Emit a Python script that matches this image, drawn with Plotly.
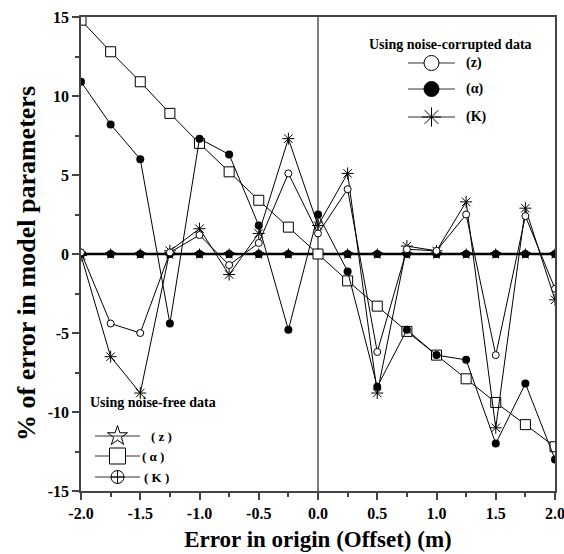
import plotly.graph_objects as go

offset = [-2.0, -1.75, -1.5, -1.25, -1.0, -0.75, -0.5, -0.25, 0.0,
          0.25, 0.5, 0.75, 1.0, 1.25, 1.5, 1.75, 2.0]

# noise-corrupted data
z_noisy = [0.1, -4.4, -5.0, 0.1, 1.2, -0.7, 0.7, 5.1, 1.3,
           4.1, -6.2, 0.3, 0.2, 2.5, -6.4, 2.4, -2.2]
alpha_noisy = [10.9, 8.2, 6.0, -4.4, 7.3, 6.3, 1.8, -4.8, 2.5,
               -1.1, -8.4, -4.8, -6.4, -6.7, -12.0, -8.2, -13.0]
k_noisy = [-0.1, -6.5, -8.8, 0.2, 1.6, -1.3, 1.3, 7.3, 1.8,
           5.1, -8.8, 0.5, 0.2, 3.3, -11.0, 2.9, -2.9]
# square-marked series
alpha_sq = [14.8, 12.8, 10.9, 8.9, 7.0, 5.2, 3.4, 1.7, 0.0,
            -1.7, -3.3, -4.9, -6.4, -7.9, -9.4, -10.8, -12.2]
# noise-free data
z_free = [0.0] * 17
alpha_free = [0.0] * 17
k_free = [0.0] * 17

xticks = [-2.0, -1.5, -1.0, -0.5, 0.0, 0.5, 1.0, 1.5, 2.0]
xticklabels = ["-2.0", "-1.5", "-1.0", "-0.5", "0.0", "0.5", "1.0", "1.5", "2.0"]
yticks = [-15, -10, -5, 0, 5, 10, 15]
yticklabels = ["-15", "-10", "-5", "0", "5", "10", "15"]

FONT = "Liberation Serif"
W, H = 564, 554
ML, MR, MT, MB = 81, 9, 17, 63
PW, PH = W - ML - MR, H - MT - MB
fig = go.Figure()

# noise-free (thick zero line)
fig.add_trace(go.Scatter(x=offset, y=z_free, mode="lines+markers",
                         line=dict(color="black", width=2.5),
                         marker=dict(symbol="circle", size=8, color="black")))
fig.add_trace(go.Scatter(x=offset, y=alpha_free, mode="markers",
                         marker=dict(symbol="star", size=9, color="black")))
fig.add_trace(go.Scatter(x=offset, y=k_free, mode="markers",
                         marker=dict(symbol="square", size=5, color="black")))

fig.add_trace(go.Scatter(x=offset, y=alpha_sq, mode="lines+markers",
                         line=dict(color="black", width=1),
                         marker=dict(symbol="square", size=10, color="white",
                                     line=dict(color="black", width=1))))
fig.add_trace(go.Scatter(x=offset, y=alpha_noisy, mode="lines+markers",
                         line=dict(color="black", width=1),
                         marker=dict(symbol="circle", size=8, color="black")))
fig.add_trace(go.Scatter(x=offset, y=k_noisy, mode="lines+markers",
                         line=dict(color="black", width=1),
                         marker=dict(symbol="asterisk-open", size=10, color="black",
                                     line=dict(color="black", width=1))))
fig.add_trace(go.Scatter(x=offset, y=z_noisy, mode="lines+markers",
                         line=dict(color="black", width=1),
                         marker=dict(symbol="circle", size=7, color="white",
                                     line=dict(color="black", width=1))))

def px(x):
    return x / W
def py(y):
    return 1 - y / H

# custom legends on an overlay axis mapped to page coordinates
def leg(x0, x1, y, sym, size, fill, label, lx, fs=13):
    fig.add_trace(go.Scatter(x=[px(x0), px(x1)], y=[py(y), py(y)], mode="lines",
                             line=dict(color="#333", width=1),
                             xaxis="x2", yaxis="y2"))
    fig.add_trace(go.Scatter(x=[px((x0 + x1) / 2)], y=[py(y)], mode="markers",
                             marker=dict(symbol=sym, size=size, color=fill,
                                         line=dict(color="black", width=1)),
                             xaxis="x2", yaxis="y2"))
    fig.add_annotation(x=px(lx), y=py(y), xref="x2", yref="y2", text=label,
                       showarrow=False, xanchor="left",
                       font=dict(family=FONT, size=fs, color="black"))

leg(408, 455, 63, "circle", 15, "white", "<b>(z)</b>", 464, 14)
leg(408, 455, 89, "circle", 15, "black", "<b>(α)</b>", 464, 14)
leg(408, 455, 117, "asterisk-open", 16, "black", "<b>(K)</b>", 464, 14)
fig.add_annotation(x=px(450), y=py(44), xref="x2", yref="y2",
                   text="<b>Using noise-corrupted data</b>", showarrow=False,
                   font=dict(family=FONT, size=14, color="black"))

leg(95, 140, 436, "star-open", 15, "black", "<b>( z )</b>", 149)
leg(95, 140, 456, "square", 16, "white", "<b>( α )</b>", 140)
leg(95, 140, 477, "circle-cross-open", 13, "black", "<b>( K )</b>", 142)
fig.add_annotation(x=px(153), y=py(402), xref="x2", yref="y2",
                   text="<b>Using noise-free data</b>", showarrow=False,
                   font=dict(family=FONT, size=14, color="black"))

# y-axis title (paper coordinates, placed left of the plot area)
fig.add_annotation(x=(26 - ML) / PW, y=(H - MB - 264) / PH,
                   xref="paper", yref="paper", xanchor="center", yanchor="middle",
                   text="<b>% of error in model parameters</b>", showarrow=False,
                   textangle=-90,
                   font=dict(family=FONT, size=26, color="black"))

fig.add_shape(type="line", x0=0, x1=0, y0=-15, y1=15, xref="x", yref="y",
              line=dict(color="#555555", width=1.5), layer="below")

fig.update_layout(
    width=W, height=H, showlegend=False,
    paper_bgcolor="white", plot_bgcolor="white",
    margin=dict(l=ML, r=MR, t=MT, b=MB, autoexpand=False),
    font=dict(family=FONT, color="black"),
    xaxis=dict(range=[-2.0, 2.0], tickvals=xticks,
               ticktext=["<b>%s</b>" % t for t in xticklabels],
               ticks="outside", ticklen=7, tickwidth=1.5, tickcolor="#444",
               minor=dict(dtick=0.25, tick0=0, ticks="outside", ticklen=4,
                          tickcolor="#444"),
               showline=True, linecolor="#444", linewidth=1.5, mirror=True,
               showgrid=False, zeroline=False, automargin=False,
               ticklabeloverflow="allow",
               tickfont=dict(family=FONT, size=16, color="black"),
               title=dict(text="<b>Error in origin (Offset) (m)</b>",
                          font=dict(family=FONT, size=23, color="black"),
                          standoff=10)),
    yaxis=dict(range=[-15, 15], tickvals=yticks,
               ticktext=["<b>%s</b>" % t for t in yticklabels],
               ticks="outside", ticklen=7, tickwidth=1.5, tickcolor="#444",
               minor=dict(dtick=2.5, tick0=0, ticks="outside", ticklen=4,
                          tickcolor="#444"),
               showline=True, linecolor="#444", linewidth=1.5, mirror=True,
               showgrid=False, zeroline=False, automargin=False,
               ticklabeloverflow="allow",
               tickfont=dict(family=FONT, size=16, color="black")),
    xaxis2=dict(range=[ML / W, (W - MR) / W], visible=False,
                overlaying="x", fixedrange=True),
    yaxis2=dict(range=[MB / H, (H - MT) / H], visible=False,
                overlaying="y", fixedrange=True),
)

fig.write_html("out.html")
